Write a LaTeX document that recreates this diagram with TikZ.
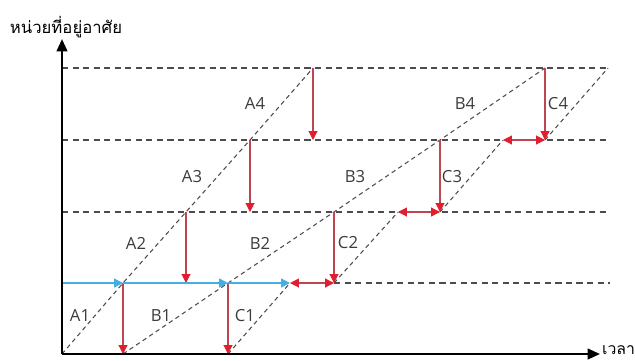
\documentclass[tikz,border=0pt]{standalone}
\usepackage{fontspec}
\setmainfont{Open Sans}
\newfontfamily\thaifont[Script=Thai]{Loma}
\usepackage{xcolor}
\usetikzlibrary{arrows.meta,positioning}
\definecolor{droplinecol}{RGB}{190,70,80}
\definecolor{droptipcol}{RGB}{225,30,45}
\definecolor{flowblue}{RGB}{70,175,225}
\definecolor{labelgray}{RGB}{60,60,60}

\begin{document}
\begin{tikzpicture}[x=0.02cm, y=0.02cm,
    axis/.style={line width=1.3pt, -{Triangle[length=7pt,width=6pt]}},
    level/.style={draw=black!70, line width=0.6pt, dash pattern=on 3.5pt off 2.5pt},
    diag/.style={draw=black!70, line width=0.6pt, dash pattern=on 2.5pt off 2pt},
    drop/.style={draw=droplinecol, line width=0.6pt, -{Triangle[length=5pt,width=5pt,color=droptipcol]}},
    gap/.style={draw=droplinecol, line width=0.6pt, {Triangle[length=5pt,width=5pt,color=droptipcol]}-{Triangle[length=5pt,width=5pt,color=droptipcol]}},
    flow/.style={draw=flowblue, line width=0.8pt, -{Triangle[length=5pt,width=5pt]}},
    unit/.style={text=labelgray, font=\fontsize{9.5}{11}\selectfont, inner sep=0pt}
]
\useasboundingbox (0,0) rectangle (635,360);

\coordinate (o) at (62,6);
\coordinate (xend) at (600,6);
\coordinate (yend) at (62,321);

% levels
\coordinate (l1w) at (62,77);  \coordinate (l1e) at (610,77);
\coordinate (l2w) at (62,148); \coordinate (l2e) at (610,148);
\coordinate (l3w) at (62,220); \coordinate (l3e) at (610,220);
\coordinate (l4w) at (62,292); \coordinate (l4e) at (610,292);

% line A
\coordinate (a1) at (123,77);
\coordinate (a2) at (186,148);
\coordinate (a3) at (250,220);
\coordinate (a4) at (313,292);
% line B
\coordinate (b0) at (123,6);
\coordinate (b1) at (228,77);
\coordinate (b2) at (334,148);
\coordinate (b3) at (440,220);
\coordinate (b4) at (545,292);
% line C
\coordinate (c0) at (228,6);
\coordinate (c1) at (290,77);
\coordinate (c1s) at (334,77);
\coordinate (c2) at (398,148);
\coordinate (c2s) at (440,148);
\coordinate (c3) at (503,220);
\coordinate (c3s) at (545,220);
\coordinate (c4) at (608,292);

\draw[level] (c1s) -- (l1e);
\draw[level] (l2w) -- (l2e);
\draw[level] (l3w) -- (l3e);
\draw[level] (l4w) -- (l4e);

\draw[diag] (o) -- (a1) -- (a2) -- (a3) -- (a4);
\draw[diag] (b0) -- (b1) -- (b2) -- (b3) -- (b4);
\draw[diag] (c0) -- (c1);
\draw[diag] (c1s) -- (c2);
\draw[diag] (c2s) -- (c3);
\draw[diag] (c3s) -- (c4);

\draw[drop] (a4) -- (a4 |- l3w);
\draw[drop] (a3) -- (a3 |- l2w);
\draw[drop] (a2) -- (a2 |- l1w);
\draw[drop] (a1) -- (b0);
\draw[drop] (b1) -- (c0);
\draw[drop] (b2) -- (c1s);
\draw[drop] (b3) -- (c2s);
\draw[drop] (b4) -- (c3s);

\draw[gap] (c1) -- (c1s);
\draw[gap] (c2) -- (c2s);
\draw[gap] (c3) -- (c3s);

\draw[flow] (l1w) -- (a1);
\draw[flow] (a1) -- (b1);
\draw[flow] (b1) -- (c1);

\draw[axis] (o) -- (xend);
\draw[axis] (o) -- (yend);

\node[anchor=west, inner sep=1pt, yshift=2.5pt, text depth=0pt, font=\thaifont\fontsize{9}{10}\selectfont] (xlbl) at (xend) {เวลา};
\node[inner sep=0pt, font=\thaifont\fontsize{9.5}{11}\selectfont] (ylbl) at (66,333) {หน่วยที่อยู่อาศัย};

\node[unit] (lA1) at (80,44) {A1};
\node[unit] (lA2) at (136,117) {A2};
\node[unit] (lA3) at (192,183) {A3};
\node[unit] (lA4) at (255,256) {A4};
\node[unit] (lB1) at (161,44) {B1};
\node[unit] (lB2) at (260,117) {B2};
\node[unit] (lB3) at (355,183) {B3};
\node[unit] (lB4) at (465,256) {B4};
\node[unit] (lC1) at (245,44) {C1};
\node[unit] (lC2) at (348,117) {C2};
\node[unit] (lC3) at (452,183) {C3};
\node[unit] (lC4) at (558,256) {C4};
\end{tikzpicture}
\end{document}
